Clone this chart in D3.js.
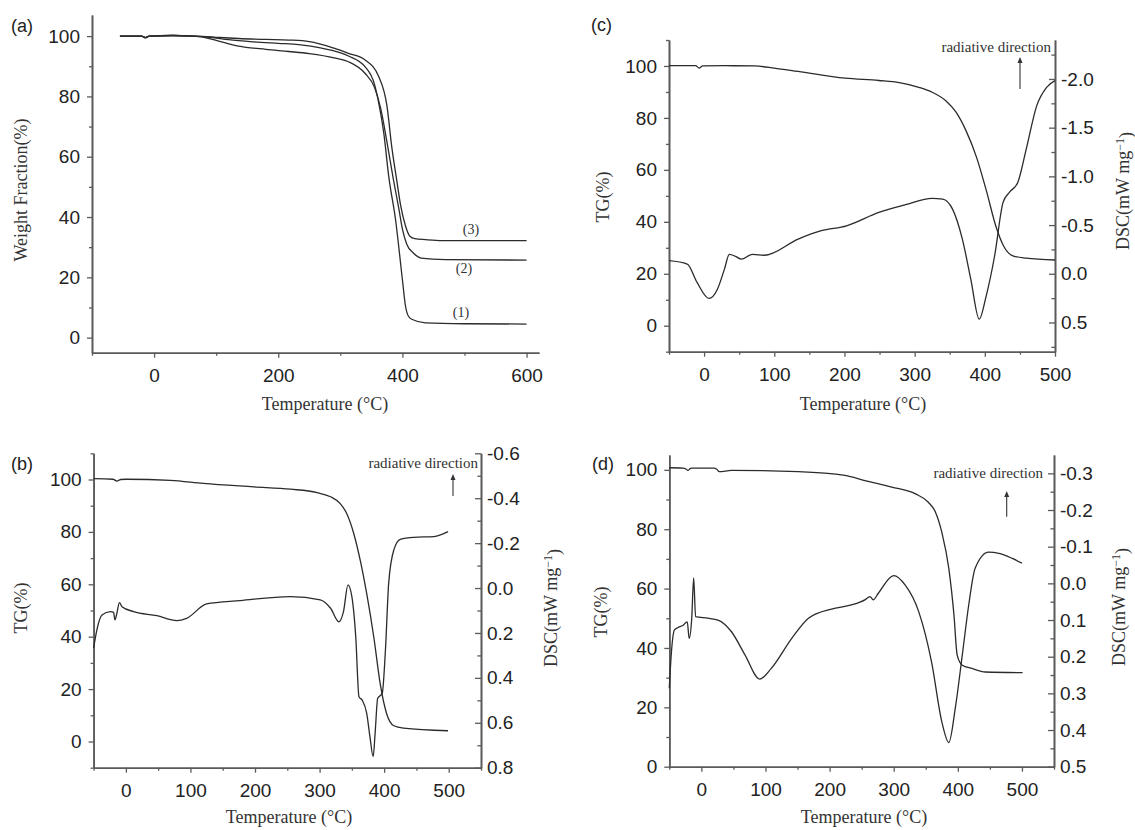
<!DOCTYPE html>
<html>
<head>
<meta charset="utf-8">
<script src="https://cdn.jsdelivr.net/npm/d3@7"></script>
<style>
  body { margin: 0; background: #fff; }
  svg { display: block; }
</style>
</head>
<body>
<div id="chart"></div>
<script>
// ---- data ----
// (a) TGA of three samples
var aTemp1 = [-55, -20, -14, -8, 30, 60, 90, 120, 160, 200, 233, 270, 313, 340, 355, 362, 370, 378, 389, 400, 405, 410, 416, 437, 500, 600];
var aWt1   = [100, 100, 99.5, 100, 100.2, 100, 99.6, 98.8, 98.1, 97.6, 97.2, 96, 93.4, 89.8, 84, 77.7, 67.8, 53.4, 39, 19.2, 10.4, 7, 6, 4.9, 4.6, 4.5];
var aTemp2 = [-55, -20, -14, -8, 30, 60, 80, 100, 136, 180, 217, 250, 290, 313, 340, 355, 365, 375, 385, 394, 400, 407, 418, 430, 470, 600];
var aWt2   = [100, 100, 99.5, 100, 100.2, 100, 99.6, 98.6, 96.7, 95.6, 94.9, 94.2, 92.8, 91.5, 87.6, 83, 76, 65, 53, 43, 36, 31, 28, 26.4, 25.9, 25.7];
var aTemp3 = [-55, -20, -14, -8, 30, 60, 100, 136, 180, 217, 250, 290, 313, 340, 362, 375, 383, 391, 397, 405, 412, 420, 437, 464, 600];
var aWt3   = [100, 100, 99.5, 100, 100.2, 100.1, 99.6, 99.2, 98.9, 98.7, 98.2, 96, 94.3, 92.1, 86.5, 77, 63, 52, 44, 37, 33.6, 32.8, 32.5, 32.2, 32.2];
var aLabels = ["(1)", "(2)", "(3)"];

// (b) TG + DSC
var bTempTG = [-50, -20, -14, -8, 1, 69, 120, 198, 255, 296, 317, 332, 342, 353, 363, 373, 384, 394, 404, 415, 430, 499];
var bTG     = [100.3, 100.1, 99.4, 100, 100.1, 99.7, 98.5, 97.2, 96.3, 95, 93.4, 90.8, 87, 79.3, 69.1, 56.4, 39.8, 21.9, 10.5, 6, 5.1, 4.1];
var bTempDSC = [-50, -45, -37, -24, -19, -17, -14, -10, -6, 12, 48, 79, 94, 125, 177, 255, 301, 317, 330, 337, 344, 350, 356, 361, 366, 373, 378, 383, 386, 390, 397, 402, 407, 415, 425, 446, 477, 499];
var bDSC     = [0.268, 0.187, 0.12, 0.105, 0.108, 0.142, 0.113, 0.065, 0.083, 0.105, 0.123, 0.145, 0.135, 0.071, 0.056, 0.038, 0.053, 0.09, 0.15, 0.105, -0.014, 0.038, 0.217, 0.484, 0.499, 0.558, 0.662, 0.751, 0.647, 0.491, 0.469, 0.276, -0.021, -0.17, -0.217, -0.226, -0.229, -0.251];

// (c) TG + DSC
var cTempTG = [-50, -12, -7, -2, 30, 72, 100, 134, 201, 249, 278, 306, 325, 344, 359, 373, 388, 402, 416, 426, 440, 459, 500];
var cTG     = [100.1, 100.1, 99.2, 100, 100.1, 100, 99.2, 97.9, 95.3, 94.4, 93.6, 91.8, 89.9, 86.7, 82.2, 75.2, 65, 52.2, 38.1, 31.1, 26.9, 26, 25.3];
var cTempDSC = [-50, -24, -10, 7, 19, 29, 36, 45, 53, 69, 86, 134, 167, 203, 249, 287, 325, 340, 354, 368, 380, 392, 402, 414, 426, 435, 447, 459, 474, 488, 500];
var cDSC     = [-0.134, -0.1, 0.089, 0.253, 0.158, -0.048, -0.2, -0.178, -0.15, -0.2, -0.19, -0.356, -0.442, -0.493, -0.63, -0.709, -0.774, -0.767, -0.664, -0.356, 0.055, 0.466, 0.226, -0.185, -0.733, -0.836, -0.938, -1.28, -1.726, -1.914, -1.983];

// (d) TG + DSC
var dTempTG = [-50, -29, -24, -21, -18, -16, 20, 24, 28, 47, 151, 224, 255, 297, 334, 354, 365, 375, 386, 394, 399, 407, 422, 443, 501];
var dTG     = [100.7, 100.6, 100.3, 99.8, 100.3, 100.6, 100.6, 100.2, 99.4, 99.8, 99.4, 98.1, 96.4, 94.2, 91.9, 89.1, 85.8, 79, 66.7, 51, 37.6, 34.2, 33.1, 31.9, 31.7];
var dTempDSC = [-50, -47, -42, -37, -29, -22, -19, -15, -12, -9, 10, 26, 47, 68, 91, 109, 141, 167, 203, 234, 255, 263, 268, 276, 300, 318, 339, 359, 375, 386, 396, 407, 417, 427, 448, 464, 485, 500];
var dDSC     = [0.286, 0.195, 0.127, 0.121, 0.115, 0.105, 0.15, 0.095, -0.015, 0.091, 0.095, 0.1, 0.132, 0.195, 0.261, 0.232, 0.15, 0.095, 0.07, 0.059, 0.045, 0.036, 0.045, 0.027, -0.021, 0.005, 0.077, 0.214, 0.377, 0.434, 0.341, 0.195, 0.059, -0.041, -0.085, -0.082, -0.068, -0.055];

// tick values
var xTicksA = [0, 200, 400, 600], xMinorA = [-100, 100, 300, 500];
var xTicks = [0, 100, 200, 300, 400, 500], xMinor = [-50, 50, 150, 250, 350, 450, 550];
var tgTicks = [0, 20, 40, 60, 80, 100], tgMinor = [-10, 10, 30, 50, 70, 90, 110];
var dscTicksB = [-0.6, -0.4, -0.2, 0, 0.2, 0.4, 0.6, 0.8], dscMinorB = [-0.5, -0.3, -0.1, 0.1, 0.3, 0.5, 0.7];
var dscTicksC = [-2.0, -1.5, -1.0, -0.5, 0, 0.5], dscMinorC = [-2.25, -1.75, -1.25, -0.75, -0.25, 0.25, 0.75];
var dscTicksD = [-0.3, -0.2, -0.1, 0, 0.1, 0.2, 0.3, 0.4, 0.5], dscMinorD = [-0.25, -0.15, -0.05, 0.05, 0.15, 0.25, 0.35, 0.45];

// ---- drawing ----
var SANS = "'Liberation Sans', Arial, sans-serif",
    SERIF = "'Liberation Serif', 'Times New Roman', serif",
    axisColor = "#5a5a5a", lineColor = "#2b2b2b";

var svg = d3.select("#chart").append("svg")
    .attr("width", 1135)
    .attr("height", 830);

function addAxis(g, maker, scale, major, minor, size, pad, fmt, tx, ty) {
  var a = g.append("g")
      .attr("transform", "translate(" + tx + "," + ty + ")")
      .call(maker(scale).tickValues(major).tickSizeInner(size).tickSizeOuter(0)
            .tickPadding(pad).tickFormat(fmt));
  var m = g.append("g")
      .attr("transform", "translate(" + tx + "," + ty + ")")
      .call(maker(scale).tickValues(minor).tickSizeInner(size * 0.6).tickSizeOuter(0)
            .tickFormat(""));
  [a, m].forEach(function(s) {
    s.select(".domain").attr("stroke", axisColor).attr("stroke-width", 1.6);
    s.selectAll(".tick line").attr("stroke", axisColor).attr("stroke-width", 1.3);
    s.selectAll("text").attr("fill", "#222").style("font-family", SANS).style("font-size", "19px");
  });
}

function drawLine(g, x, y, temps, vals) {
  var line = d3.line()
      .x(function(d) { return x(d[0]); })
      .y(function(d) { return y(d[1]); })
      .curve(d3.curveMonotoneX);
  g.append("path")
      .datum(d3.zip(temps, vals))
      .attr("fill", "none")
      .attr("stroke", lineColor)
      .attr("stroke-width", 1.3)
      .attr("d", line);
}

function vLabel(g, txt, cx, cy) {
  g.append("text")
      .attr("transform", "translate(" + cx + "," + cy + ") rotate(-90)")
      .attr("text-anchor", "middle")
      .attr("dy", "0.35em")
      .style("font-family", SERIF).style("font-size", "18px").attr("fill", "#333")
      .text(txt);
}

function dscLabel(g, cx, cy) {
  var t = g.append("text")
      .attr("transform", "translate(" + cx + "," + cy + ") rotate(-90)")
      .attr("text-anchor", "middle")
      .attr("dy", "0.35em")
      .style("font-family", SERIF).style("font-size", "18px").attr("fill", "#333");
  t.append("tspan").text("DSC(mW mg");
  t.append("tspan").attr("dy", "-0.45em").style("font-size", "12px").text("\u22121");
  t.append("tspan").attr("dy", "0.45em").text(")");
}

function hLabel(g, txt, cx, by) {
  g.append("text")
      .attr("x", cx).attr("y", by)
      .attr("text-anchor", "middle")
      .style("font-family", SERIF).style("font-size", "18px").attr("fill", "#333")
      .text(txt);
}

function panelTag(g, txt, x, y) {
  g.append("text").attr("x", x).attr("y", y)
      .style("font-family", SANS).style("font-size", "18px").attr("fill", "#222")
      .text(txt);
}

function radiative(g, tx, ty, ax, ayTop, ayBottom) {
  g.append("text").attr("x", tx).attr("y", ty).attr("text-anchor", "end")
      .style("font-family", SERIF).style("font-size", "15px").attr("fill", "#333")
      .text("radiative direction");
  g.append("line").attr("x1", ax).attr("x2", ax).attr("y1", ayBottom).attr("y2", ayTop + 4)
      .attr("stroke", "#333").attr("stroke-width", 1.1);
  g.append("path")
      .attr("d", "M" + ax + "," + ayTop + "l-2.5,6h5z")
      .attr("fill", "#333");
}

var fmtInt = function(d) { return String(d); };
var fmt1 = function(d) { return (Math.abs(d) < 1e-9 ? 0 : d).toFixed(1); };

// ---------- panel (a) ----------
(function() {
  var g = svg.append("g");
  var x = d3.scaleLinear().domain([-100, 620]).range([92, 539]);
  var y = d3.scaleLinear().domain([-5, 107]).range([352.7, 15]);
  addAxis(g, d3.axisBottom, x, xTicksA, xMinorA, 5, 11, fmtInt, 0, 352.7);
  addAxis(g, d3.axisLeft, y, [0, 20, 40, 60, 80, 100], [10, 30, 50, 70, 90], 5, 7, fmtInt, 92, 0);
  drawLine(g, x, y, aTemp1, aWt1);
  drawLine(g, x, y, aTemp2, aWt2);
  drawLine(g, x, y, aTemp3, aWt3);
  // curve labels near their plateaus
  var ends = [aWt1[aWt1.length - 1], aWt2[aWt2.length - 1], aWt3[aWt3.length - 1]];
  var offs = [-7, 13, -7], lx = [461, 464, 471];
  aLabels.forEach(function(t, i) {
    g.append("text").attr("x", lx[i]).attr("y", y(ends[i]) + offs[i])
        .attr("text-anchor", "middle")
        .style("font-family", SERIF).style("font-size", "14px").attr("fill", "#333")
        .text(t);
  });
  panelTag(g, "(a)", 11, 32);
  vLabel(g, "Weight Fraction(%)", 21, 190);
  hLabel(g, "Temperature (\u00b0C)", 325, 410);
})();

// ---------- panel (b) ----------
(function() {
  var g = svg.append("g");
  var x = d3.scaleLinear().domain([-50, 550]).range([93.6, 481]);
  var y = d3.scaleLinear().domain([-10, 110]).range([767.7, 453.3]);
  var y2 = d3.scaleLinear().domain([0.8, -0.6]).range([767.7, 453.3]);
  addAxis(g, d3.axisBottom, x, xTicks, xMinor, 5, 11, fmtInt, 0, 767.7);
  addAxis(g, d3.axisLeft, y, tgTicks, tgMinor, 5, 7, fmtInt, 93.6, 0);
  addAxis(g, d3.axisRight, y2, dscTicksB, dscMinorB, -6, 6, fmt1, 481, 0);
  drawLine(g, x, y, bTempTG, bTG);
  drawLine(g, x, y2, bTempDSC, bDSC);
  panelTag(g, "(b)", 11, 470);
  vLabel(g, "TG(%)", 21, 608);
  dscLabel(g, 551, 608);
  hLabel(g, "Temperature (\u00b0C)", 289, 823);
  radiative(g, 478, 468, 453, 474, 496);
})();

// ---------- panel (c) ----------
(function() {
  var g = svg.append("g");
  var x = d3.scaleLinear().domain([-50, 500]).range([669, 1055]);
  var y = d3.scaleLinear().domain([-10, 110]).range([351.7, 40]);
  var y2 = d3.scaleLinear().domain([0.8, -2.4]).range([351.7, 40]);
  addAxis(g, d3.axisBottom, x, xTicks, xMinor.slice(0, 6), 5, 11, fmtInt, 0, 351.7);
  addAxis(g, d3.axisLeft, y, tgTicks, tgMinor, 5, 7, fmtInt, 669, 0);
  addAxis(g, d3.axisRight, y2, dscTicksC, dscMinorC, -6, 6, fmt1, 1055, 0);
  drawLine(g, x, y, cTempTG, cTG);
  drawLine(g, x, y2, cTempDSC, cDSC);
  panelTag(g, "(c)", 591, 31);
  vLabel(g, "TG(%)", 603, 197);
  dscLabel(g, 1123, 191);
  hLabel(g, "Temperature (\u00b0C)", 863, 410);
  radiative(g, 1051, 52, 1020, 57, 89);
})();

// ---------- panel (d) ----------
(function() {
  var g = svg.append("g");
  var x = d3.scaleLinear().domain([-50, 550]).range([669.3, 1054]);
  var y = d3.scaleLinear().domain([0, 105]).range([766.7, 455]);
  var y2 = d3.scaleLinear().domain([0.5, -0.35]).range([766.7, 455]);
  addAxis(g, d3.axisBottom, x, xTicks, xMinor, 5, 11, fmtInt, 0, 766.7);
  addAxis(g, d3.axisLeft, y, tgTicks, [10, 30, 50, 70, 90], 5, 7, fmtInt, 669.3, 0);
  addAxis(g, d3.axisRight, y2, dscTicksD, dscMinorD, -6, 6, fmt1, 1054, 0);
  drawLine(g, x, y, dTempTG, dTG);
  drawLine(g, x, y2, dTempDSC, dDSC);
  panelTag(g, "(d)", 592, 470);
  vLabel(g, "TG(%)", 601, 612);
  dscLabel(g, 1119, 607);
  hLabel(g, "Temperature (\u00b0C)", 864, 823);
  radiative(g, 1043, 478, 1006.7, 491, 516.7);
})();
</script>
</body>
</html>
